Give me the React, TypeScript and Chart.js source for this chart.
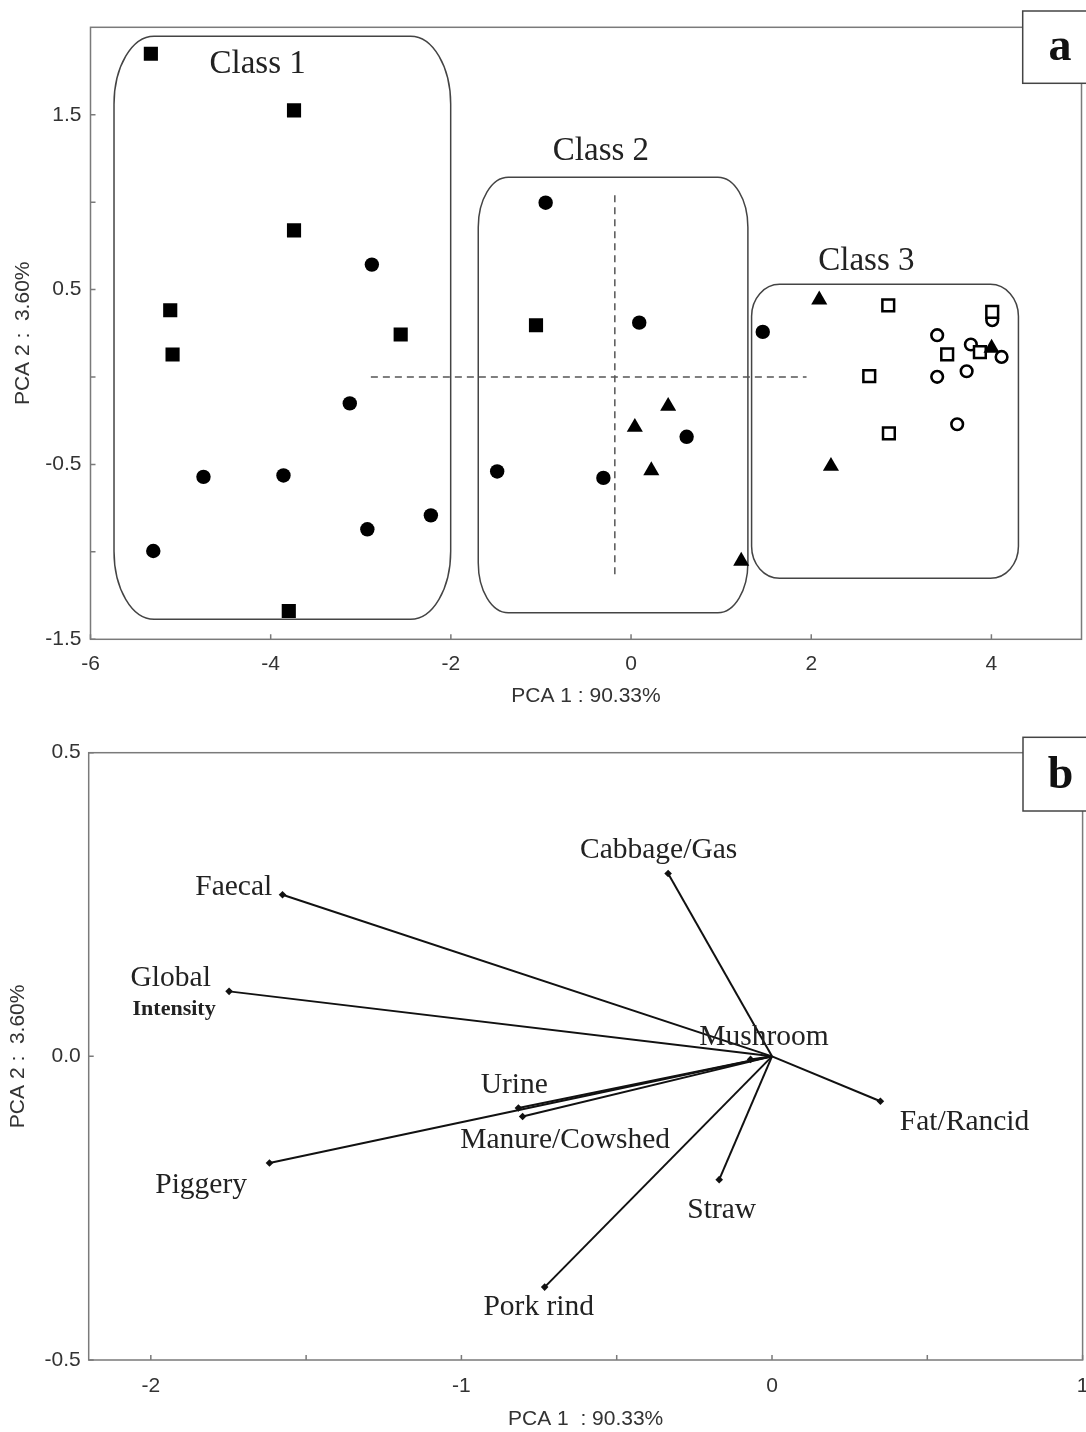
import { useEffect, useRef } from 'react';
import { Chart, registerables } from 'chart.js';

Chart.register(...registerables);

const SANS = '"Liberation Sans", Arial, sans-serif';
const SERIF = '"Liberation Serif", "Times New Roman", serif';

// ---------------- Panel a : PCA scores ----------------
const xTicksA = [-6, -4, -2, 0, 2, 4];
const yTicksA = [-1.5, -1, -0.5, 0, 0.5, 1, 1.5];
const yLabelsA = [-1.5, -0.5, 0.5, 1.5];

const filledSquares = [
  [-5.33, 1.849], [-3.741, 1.525], [-3.741, 0.839], [-5.115, 0.382],
  [-2.557, 0.243], [-5.089, 0.129], [-3.799, -1.338], [-1.055, 0.296],
];
const filledCircles = [
  [-2.877, 0.643], [-3.122, -0.151], [-4.746, -0.571], [-3.858, -0.563],
  [-2.927, -0.871], [-2.222, -0.791], [-5.303, -0.995], [-1.486, -0.54],
  [-0.948, 0.997], [0.091, 0.311], [0.617, -0.342], [-0.307, -0.577], [1.462, 0.258],
];
const filledTriangles = [
  [0.412, -0.167], [0.042, -0.287], [0.225, -0.535], [1.223, -1.053],
  [2.089, 0.442], [2.219, -0.51], [4.002, 0.166],
];
const openSquares = [
  [2.855, 0.41], [4.009, 0.372], [3.872, 0.143], [3.509, 0.13], [2.644, 0.005], [2.862, -0.323],
];
const openCircles = [
  [4.009, 0.325], [3.398, 0.239], [3.772, 0.186], [4.113, 0.115], [3.725, 0.033], [3.398, 0.001], [3.62, -0.27],
];

const hDashX = [-2.888, 1.948];
const hDashY = [0, 0];
const vDashX = [-0.18, -0.18];
const vDashY = [1.039, -1.133];

const classNames = ['Class 1', 'Class 2', 'Class 3'];
const classLabelX = [-4.145, -0.334, 2.612];
const classLabelY = [1.738, 1.243, 0.61];
const classBoxLeft = [-5.739, -1.696, 1.338];
const classBoxRight = [-2.002, 1.297, 4.3];
const classBoxTop = [1.949, 1.143, 0.53];
const classBoxBottom = [-1.386, -1.348, -1.151];
const classBoxCorner = [[40, 68], [30, 50], [28, 32]]; // px (style)

// ---------------- Panel b : loadings ----------------
const xTicksB = [-2, -1.5, -1, -0.5, 0, 0.5, 1];
const yTicksB = [-0.5, 0, 0.5];

const attributes = ['Faecal', 'Global', 'Cabbage/Gas', 'Mushroom', 'Urine', 'Manure/Cowshed', 'Piggery', 'Pork rind', 'Straw', 'Fat/Rancid'];
const loadingPC1 = [-1.576, -1.748, -0.3345, -0.069, -0.8165, -0.803, -1.618, -0.732, -0.17, 0.349];
const loadingPC2 = [0.266, 0.107, 0.301, -0.005, -0.085, -0.099, -0.1756, -0.38, -0.203, -0.074];
const labelPC1 = [-1.733, -1.936, -0.365, -0.026, -0.83, -0.666, -1.838, -0.751, -0.162, 0.62];
const labelPC2 = [0.2652, 0.1153, 0.327, 0.0193, -0.0603, -0.151, -0.225, -0.4255, -0.266, -0.1208];
const subLabel = 'Intensity';
const subLabelPC1 = -1.925;
const subLabelPC2 = 0.0675;

const toPts = (arr: number[][]) => arr.map(([x, y]) => ({ x, y }));
const pairPts = (xs: number[], ys: number[]) => xs.map((x, i) => ({ x, y: ys[i] }));

function ellipseRoundRect(ctx: CanvasRenderingContext2D, x1: number, y1: number, x2: number, y2: number, rx: number, ry: number) {
  ctx.beginPath();
  ctx.moveTo(x1 + rx, y1);
  ctx.lineTo(x2 - rx, y1);
  ctx.ellipse(x2 - rx, y1 + ry, rx, ry, 0, -Math.PI / 2, 0);
  ctx.lineTo(x2, y2 - ry);
  ctx.ellipse(x2 - rx, y2 - ry, rx, ry, 0, 0, Math.PI / 2);
  ctx.lineTo(x1 + rx, y2);
  ctx.ellipse(x1 + rx, y2 - ry, rx, ry, 0, Math.PI / 2, Math.PI);
  ctx.lineTo(x1, y1 + ry);
  ctx.ellipse(x1 + rx, y1 + ry, rx, ry, 0, Math.PI, Math.PI * 1.5);
  ctx.closePath();
  ctx.stroke();
}

function decorPlugin(opts: {
  xTicks: number[];
  yTicks: number[];
  letter: string;
  boxLeft: number;
  boxTop: number;
  boxBottom: number;
  letterX: number;
  letterBaseline: number;
  before?: (chart: any) => void;
  after?: (chart: any) => void;
}) {
  return {
    id: 'decor',
    beforeDatasetsDraw(chart: any) {
      opts.before && opts.before(chart);
    },
    afterDatasetsDraw(chart: any) {
      opts.after && opts.after(chart);
    },
    afterDraw(chart: any) {
      const { ctx, chartArea: a, scales } = chart;
      ctx.save();
      ctx.strokeStyle = '#7a7a7a';
      ctx.lineWidth = 1.5;
      ctx.strokeRect(a.left, a.top, a.right - a.left, a.bottom - a.top);
      ctx.beginPath();
      for (const v of opts.xTicks) {
        const x = scales.x.getPixelForValue(v);
        ctx.moveTo(x, a.bottom);
        ctx.lineTo(x, a.bottom - 5);
      }
      for (const v of opts.yTicks) {
        const y = scales.y.getPixelForValue(v);
        ctx.moveTo(a.left, y);
        ctx.lineTo(a.left + 5, y);
      }
      ctx.stroke();
      ctx.fillStyle = '#ffffff';
      ctx.fillRect(opts.boxLeft, opts.boxTop, 120, opts.boxBottom - opts.boxTop);
      ctx.strokeStyle = '#444';
      ctx.lineWidth = 1.5;
      ctx.strokeRect(opts.boxLeft, opts.boxTop, 120, opts.boxBottom - opts.boxTop);
      ctx.fillStyle = '#111';
      ctx.font = `bold 46px ${SERIF}`;
      ctx.textAlign = 'center';
      ctx.textBaseline = 'alphabetic';
      ctx.fillText(opts.letter, opts.letterX, opts.letterBaseline);
      ctx.restore();
    },
  };
}

const zeroPad = (s: any) => {
  s.paddingLeft = 0;
  s.paddingRight = 0;
  s.paddingTop = 0;
  s.paddingBottom = 0;
};

function configA(): any {
  const marker = (data: any, style: string, r: number, fill: string, bw: number) => ({
    type: 'scatter',
    data: toPts(data),
    pointStyle: style,
    pointRadius: r,
    pointBackgroundColor: fill,
    pointBorderColor: '#000',
    pointBorderWidth: bw,
    showLine: false,
  });
  return {
    type: 'scatter',
    data: {
      datasets: [
        {
          type: 'line', data: pairPts(hDashX, hDashY), borderColor: '#555', borderWidth: 1.5,
          borderDash: [7, 5], pointRadius: 0, fill: false,
        },
        {
          type: 'line', data: pairPts(vDashX, vDashY), borderColor: '#555', borderWidth: 1.5,
          borderDash: [7, 5], pointRadius: 0, fill: false,
        },
        marker(filledSquares, 'rect', 10, '#000', 0),
        marker(filledCircles, 'circle', 7.2, '#000', 0),
        marker(filledTriangles, 'triangle', 9.3, '#000', 0),
        marker(openSquares, 'rect', 8.3, '#fff', 2.5),
        marker(openCircles, 'circle', 5.8, '#fff', 2.6),
      ],
    },
    options: {
      responsive: false,
      maintainAspectRatio: false,
      animation: false,
      events: [],
      layout: { autoPadding: false, padding: { left: 0, right: 4.5, top: 27.3, bottom: 0 } },
      plugins: { legend: { display: false }, tooltip: { enabled: false } },
      scales: {
        x: {
          type: 'linear', min: -6, max: 5,
          afterBuildTicks: (s: any) => { s.ticks = xTicksA.map((v) => ({ value: v })); },
          afterFit: (s: any) => { s.height = 76.7; zeroPad(s); },
          grid: { display: false, drawTicks: false },
          border: { display: false },
          ticks: { color: '#333', font: { family: SANS, size: 21 }, padding: 12, maxRotation: 0, autoSkip: false, callback: (v: any) => String(v) },
          title: { display: true, text: 'PCA 1 : 90.33%', color: '#333', font: { family: SANS, size: 21 }, padding: { top: 0, bottom: 7 } },
        },
        y: {
          type: 'linear', min: -1.5, max: 2,
          afterBuildTicks: (s: any) => { s.ticks = yTicksA.map((v) => ({ value: v })); },
          afterFit: (s: any) => { s.width = 90.5; zeroPad(s); },
          grid: { display: false, drawTicks: false },
          border: { display: false },
          ticks: {
            color: '#333', font: { family: SANS, size: 21 }, padding: 9, autoSkip: false,
            callback: (v: any) => (yLabelsA.includes(v) ? Number(v).toFixed(1) : ''),
          },
          title: { display: true, text: 'PCA 2 :  3.60%', color: '#333', font: { family: SANS, size: 21 }, padding: { top: 10.4, bottom: 0 } },
        },
      },
    },
    plugins: [
      decorPlugin({
        xTicks: xTicksA, yTicks: yTicksA, letter: 'a',
        boxLeft: 1022.7, boxTop: 11, boxBottom: 83.3, letterX: 1060, letterBaseline: 60,
        before: (chart: any) => {
          const { ctx, scales } = chart;
          ctx.save();
          ctx.strokeStyle = '#444';
          ctx.lineWidth = 1.5;
          for (let i = 0; i < classNames.length; i++) {
            ellipseRoundRect(
              ctx,
              scales.x.getPixelForValue(classBoxLeft[i]),
              scales.y.getPixelForValue(classBoxTop[i]),
              scales.x.getPixelForValue(classBoxRight[i]),
              scales.y.getPixelForValue(classBoxBottom[i]),
              classBoxCorner[i][0],
              classBoxCorner[i][1],
            );
          }
          ctx.restore();
        },
        after: (chart: any) => {
          const { ctx, scales } = chart;
          ctx.save();
          ctx.fillStyle = '#222';
          ctx.font = `33px ${SERIF}`;
          ctx.textAlign = 'center';
          ctx.textBaseline = 'alphabetic';
          for (let i = 0; i < classNames.length; i++) {
            ctx.fillText(classNames[i], scales.x.getPixelForValue(classLabelX[i]), scales.y.getPixelForValue(classLabelY[i]));
          }
          ctx.restore();
        },
      }),
    ],
  };
}

function configB(): any {
  const datasets = attributes.map((name, i) => ({
    type: 'line',
    label: name,
    data: [{ x: 0, y: 0 }, { x: loadingPC1[i], y: loadingPC2[i] }],
    borderColor: '#111',
    borderWidth: 2,
    pointStyle: 'rectRot',
    pointRadius: (c: any) => (c.dataIndex === 1 ? 3.8 : 0),
    pointBackgroundColor: '#111',
    pointBorderColor: '#111',
    pointBorderWidth: 0,
    fill: false,
  }));
  return {
    type: 'scatter',
    data: { datasets },
    options: {
      responsive: false,
      maintainAspectRatio: false,
      animation: false,
      events: [],
      layout: { autoPadding: false, padding: { left: 0, right: 3.4, top: 36.7, bottom: 0 } },
      plugins: { legend: { display: false }, tooltip: { enabled: false } },
      scales: {
        x: {
          type: 'linear', min: -2.2, max: 1,
          afterBuildTicks: (s: any) => { s.ticks = xTicksB.map((v) => ({ value: v })); },
          afterFit: (s: any) => { s.height = 72; zeroPad(s); },
          grid: { display: false, drawTicks: false },
          border: { display: false },
          ticks: {
            color: '#333', font: { family: SANS, size: 21 }, padding: 14, maxRotation: 0, autoSkip: false,
            callback: (v: any) => (Number.isInteger(v) ? String(v) : ''),
          },
          title: { display: true, text: 'PCA 1  : 90.33%', color: '#333', font: { family: SANS, size: 21 }, padding: { top: 0, bottom: 0 } },
        },
        y: {
          type: 'linear', min: -0.5, max: 0.5,
          afterBuildTicks: (s: any) => { s.ticks = yTicksB.map((v) => ({ value: v })); },
          afterFit: (s: any) => { s.width = 88.7; zeroPad(s); },
          grid: { display: false, drawTicks: false },
          border: { display: false },
          ticks: {
            color: '#333', font: { family: SANS, size: 21 }, padding: 8, autoSkip: false,
            callback: (v: any) => Number(v).toFixed(1),
          },
          title: { display: true, text: 'PCA 2 :  3.60%', color: '#333', font: { family: SANS, size: 21 }, padding: { top: 5.4, bottom: 0 } },
        },
      },
    },
    plugins: [
      decorPlugin({
        xTicks: xTicksB, yTicks: yTicksB, letter: 'b',
        boxLeft: 1023, boxTop: 21.3, boxBottom: 95, letterX: 1060.5, letterBaseline: 72.3,
        after: (chart: any) => {
          const { ctx, scales } = chart;
          ctx.save();
          ctx.fillStyle = '#222';
          ctx.textAlign = 'center';
          ctx.textBaseline = 'alphabetic';
          ctx.font = `29.5px ${SERIF}`;
          for (let i = 0; i < attributes.length; i++) {
            ctx.fillText(attributes[i], scales.x.getPixelForValue(labelPC1[i]), scales.y.getPixelForValue(labelPC2[i]));
          }
          ctx.font = `bold 22px ${SERIF}`;
          ctx.fillText(subLabel, scales.x.getPixelForValue(subLabelPC1), scales.y.getPixelForValue(subLabelPC2));
          ctx.restore();
        },
      }),
    ],
  };
}

function ChartCanvas({ make, top }: { make: () => any; top: number }) {
  const ref = useRef<HTMLCanvasElement | null>(null);
  useEffect(() => {
    if (!ref.current) return;
    const chart = new Chart(ref.current, make());
    return () => chart.destroy();
  }, [make]);
  return (
    <canvas
      ref={ref}
      width={1086}
      height={716}
      style={{ position: 'absolute', left: 0, top, width: 1086, height: 716, display: 'block' }}
    />
  );
}

export default function App() {
  return (
    <div style={{ position: 'absolute', left: 0, top: 0, width: 1086, height: 1432, background: '#fff', overflow: 'hidden' }}>
      <ChartCanvas make={configA} top={0} />
      <ChartCanvas make={configB} top={716} />
    </div>
  );
}
